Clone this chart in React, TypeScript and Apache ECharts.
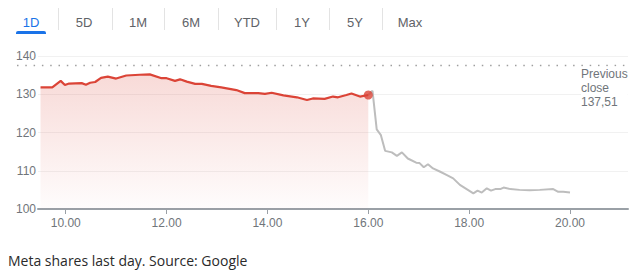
import { useEffect, useRef } from "react";
import * as echarts from "echarts";

// Range selector tabs
const tabs = ["1D", "5D", "1M", "6M", "YTD", "1Y", "5Y", "Max"];
const activeTab = "1D";

// Previous session close
const previousClose = 137.51;
const previousCloseLabel = ["Previous", "close", "137,51"];

// Regular session (minutes since midnight, price)
const sessionMinutes = [
  570, 584, 594, 599, 604, 619, 624, 629, 635, 642, 650, 660, 672, 688, 700,
  714, 720, 730, 736, 744, 754, 762, 773, 785, 803, 813, 829, 837, 845, 859,
  875, 887, 894, 908, 918, 924, 934, 940, 950, 960,
];
const sessionPrices = [
  131.8, 131.8, 133.5, 132.4, 132.8, 132.9, 132.5, 133.0, 133.2, 134.3, 134.6,
  134.1, 134.9, 135.1, 135.2, 134.2, 134.2, 133.5, 133.9, 133.3, 132.7, 132.7,
  132.2, 131.8, 131.1, 130.3, 130.3, 130.1, 130.4, 129.7, 129.2, 128.5, 128.9,
  128.8, 129.4, 129.2, 129.8, 130.2, 129.4, 129.8,
];

// After-hours trading
const afterMinutes = [
  960, 965, 970, 975, 980, 988, 994, 1000, 1007, 1017, 1021, 1026, 1031, 1037,
  1045, 1053, 1061, 1069, 1077, 1085, 1090, 1095, 1101, 1106, 1111, 1117, 1121,
  1129, 1140, 1152, 1164, 1180, 1186, 1192, 1200,
];
const afterPrices = [
  129.8, 130.9, 120.8, 119.3, 115.2, 114.8, 113.9, 114.8, 113.2, 112.1, 112.0,
  110.9, 111.7, 110.6, 109.8, 108.9, 108.0, 106.3, 105.2, 104.1, 104.8, 104.3,
  105.4, 104.8, 105.2, 105.2, 105.6, 105.2, 105.0, 104.9, 105.0, 105.2, 104.5,
  104.5, 104.3,
];

// Axis ticks
const timeTicks = [600, 720, 840, 960, 1080, 1200];
const priceMin = 100;
const priceMax = 140;
const priceStep = 10;

const caption = "Meta shares last day. Source: Google";

const RED = "#db4437";
const GREY_LINE = "#bdbdbd";
const LABEL = "#70757a";

const fmtTime = (m: number) => {
  const h = Math.floor(m / 60);
  const mm = m % 60;
  return `${h}.${mm < 10 ? "0" : ""}${mm}`;
};

export default function App() {
  const ref = useRef<HTMLDivElement>(null);

  useEffect(() => {
    if (!ref.current) return;
    const chart = echarts.init(ref.current, undefined, { renderer: "svg" });

    const grid = { left: 38, right: 13, top: 56, bottom: 66 };

    chart.setOption({
      animation: false,
      grid: { ...grid, containLabel: false },
      xAxis: {
        type: "value",
        min: 567,
        max: 1269,
        axisLine: { show: true, lineStyle: { color: "#9aa0a6", width: 2 } },
        axisTick: {
          show: true,
          length: 5,
          customValues: timeTicks,
          lineStyle: { color: "#9aa0a6", width: 1 },
        },
        axisLabel: {
          customValues: timeTicks,
          formatter: (v: number) => fmtTime(v),
          color: LABEL,
          fontSize: 12,
          fontFamily: "Liberation Sans, Arial, sans-serif",
          margin: 8,
        },
        splitLine: { show: false },
      },
      yAxis: {
        type: "value",
        min: priceMin,
        max: priceMax,
        interval: priceStep,
        axisLine: { show: false },
        axisTick: { show: false },
        axisLabel: {
          color: LABEL,
          fontSize: 12,
          fontFamily: "Liberation Sans, Arial, sans-serif",
          margin: 2,
        },
        splitLine: { show: true, lineStyle: { color: "#f1f1f1", width: 1 } },
      },
      series: [
        {
          type: "line",
          data: sessionMinutes.map((m, i) => [m, sessionPrices[i]]),
          symbol: "none",
          lineStyle: { color: RED, width: 2.2 },
          areaStyle: {
            origin: "start",
            color: new echarts.graphic.LinearGradient(0, 0, 0, 1, [
              { offset: 0, color: "rgba(219,68,55,0.28)" },
              { offset: 1, color: "rgba(219,68,55,0.02)" },
            ]),
          },
          z: 3,
        },
        {
          type: "line",
          data: afterMinutes.map((m, i) => [m, afterPrices[i]]),
          symbol: "none",
          lineStyle: { color: GREY_LINE, width: 2 },
          z: 2,
        },
        {
          type: "scatter",
          data: [[sessionMinutes[sessionMinutes.length - 1], sessionPrices[sessionPrices.length - 1]]],
          symbolSize: 9,
          itemStyle: { color: RED },
          z: 4,
        },
      ],
    });

    const closeY = chart.convertToPixel({ yAxisIndex: 0 }, previousClose) as number;
    const rightEdge = 641 - grid.right;

    const tabCenters = [31, 84, 138, 191, 247, 302, 355, 410];
    const separators = [58, 112, 164, 218, 276, 329, 382];

    const graphic: any[] = [];
    tabs.forEach((t, i) => {
      graphic.push({
        type: "text",
        x: tabCenters[i],
        y: 22,
        style: {
          text: t,
          fill: t === activeTab ? "#1a73e8" : "#5f6368",
          font: '13px "Liberation Sans", Arial, sans-serif',
          textAlign: "center",
          textVerticalAlign: "middle",
        },
      });
      if (t === activeTab) {
        graphic.push({
          type: "rect",
          shape: { x: tabCenters[i] - 15, y: 31, width: 30, height: 3, r: [2, 2, 0, 0] },
          style: { fill: "#1a73e8" },
        });
      }
    });
    separators.forEach((x) => {
      graphic.push({
        type: "line",
        shape: { x1: x + 0.5, y1: 8, x2: x + 0.5, y2: 30 },
        style: { stroke: "#e3e3e3", lineWidth: 1 },
      });
    });
    graphic.push({
      type: "line",
      shape: { x1: 17, y1: closeY, x2: rightEdge, y2: closeY },
      style: { stroke: "#9e9e9e", lineWidth: 1.5, lineDash: [1.5, 6.8] },
      z: 1,
    });
    graphic.push({
      type: "text",
      x: 581,
      y: closeY + 1,
      style: {
        text: previousCloseLabel.join("\n"),
        fill: LABEL,
        font: '12px "Liberation Sans", Arial, sans-serif',
        lineHeight: 14,
        textAlign: "left",
        textVerticalAlign: "top",
        backgroundColor: "#ffffff",
      },
      z: 5,
    });
    graphic.push({
      type: "text",
      x: 8,
      y: 260,
      style: {
        text: caption,
        fill: "#2a2a2a",
        font: '14px "Open Sans", sans-serif',
        textAlign: "left",
        textVerticalAlign: "middle",
      },
    });

    chart.setOption({ graphic });

    return () => chart.dispose();
  }, []);

  return (
    <div
      ref={ref}
      style={{ position: "fixed", left: 0, top: 0, width: 641, height: 275, background: "#fff" }}
    />
  );
}
